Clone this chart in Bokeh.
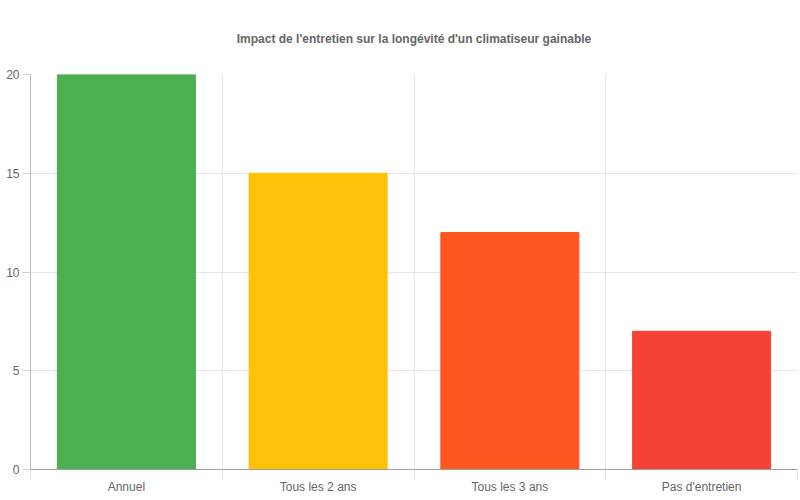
from bokeh.plotting import figure
from bokeh.models import ColumnDataSource, FixedTicker, Range1d
from bokeh.embed import file_html
from bokeh.resources import INLINE

categories = ["Annuel", "Tous les 2 ans", "Tous les 3 ans", "Pas d'entretien"]
values = [20, 15, 12, 7]
colors = ["#4CAF50", "#FFC107", "#FF5722", "#F44336"]
y_ticks = [0, 5, 10, 15, 20]
title_text = "Impact de l'entretien sur la longévité d'un climatiseur gainable"

xs = [i + 0.5 for i in range(len(categories))]
src = ColumnDataSource(dict(x=xs, top=values, color=colors, cat=categories))

p = figure(width=800, height=500, output_backend="svg", toolbar_location=None,
           x_range=Range1d(0, len(categories)), y_range=Range1d(0, 20),
           min_border_left=30, min_border_right=3, min_border_top=74, min_border_bottom=31)

p.vbar(x="x", top="top", bottom=0, width=0.72, color="color", source=src)

p.title.text = title_text
p.title.align = "center"
p.title.offset = -11
p.title.text_font = "Liberation Sans"
p.title.text_font_size = "12px"
p.title.text_font_style = "bold"
p.title.text_color = "#666666"
p.title.standoff = 58

p.outline_line_color = None
p.background_fill_color = "white"
p.border_fill_color = "white"

xa = p.xaxis[0]
xa.ticker = FixedTicker(ticks=xs, minor_ticks=list(range(len(categories) + 1)))
xa.major_label_overrides = {x: c for x, c in zip(xs, categories)}
xa.major_tick_line_color = None
xa.minor_tick_in = 0
xa.minor_tick_out = 10
xa.minor_tick_line_color = "#e0e0e0"
xa.axis_line_color = "#9e9e9e"
xa.major_label_text_font = "Liberation Sans"
xa.major_label_text_font_size = "12px"
xa.major_label_text_color = "#666666"
xa.major_label_standoff = 0

ya = p.yaxis[0]
ya.ticker = FixedTicker(ticks=y_ticks)
ya.minor_tick_line_color = None
ya.major_tick_in = 0
ya.major_tick_out = 8
ya.major_tick_line_color = "#d0d0d0"
ya.axis_line_color = "#bdbdbd"
ya.major_label_text_font = "Liberation Sans"
ya.major_label_text_font_size = "12px"
ya.major_label_text_color = "#666666"
ya.major_label_standoff = 3

p.xgrid.ticker = FixedTicker(ticks=list(range(len(categories) + 1)))
p.xgrid.grid_line_color = "#e5e5e5"
p.ygrid.grid_line_color = "#e5e5e5"

open("out.html", "w").write(file_html(p, INLINE))
